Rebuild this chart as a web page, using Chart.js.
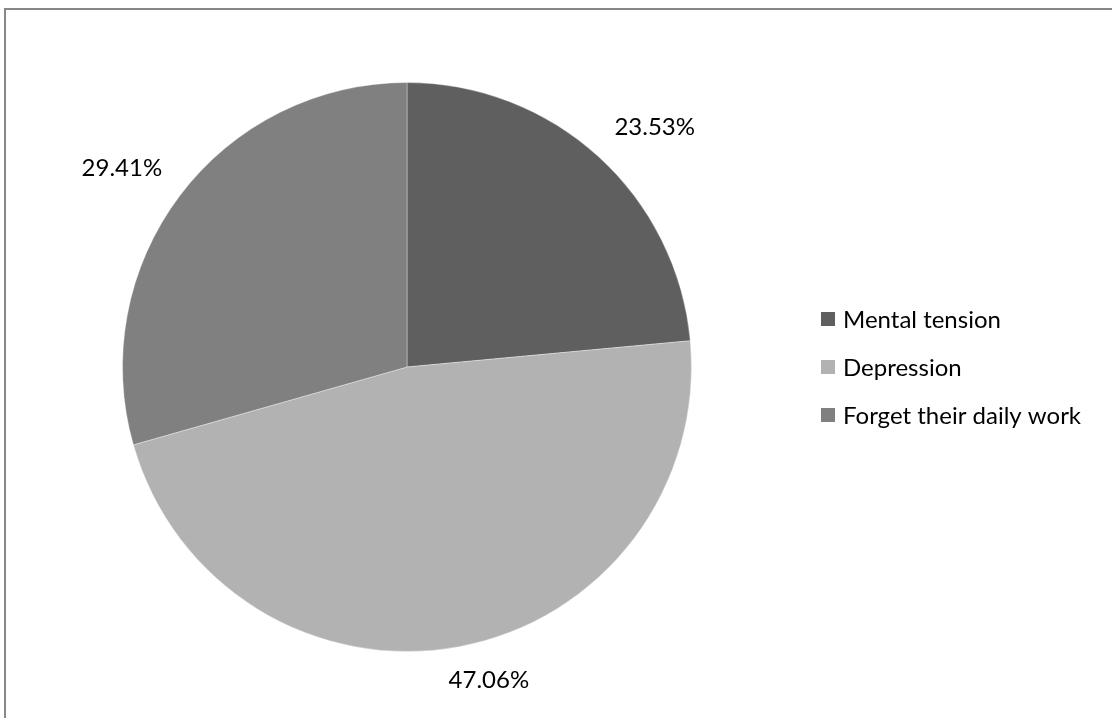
<!DOCTYPE html>
<html>
<head>
<meta charset="utf-8">
<script src="https://cdn.jsdelivr.net/npm/chart.js@4/dist/chart.umd.min.js"></script>
<style>
  html, body { margin: 0; padding: 0; background: #fff; overflow: hidden; }
  #frame { position: absolute; left: 4px; top: 8px; width: 2000px; height: 2000px; border: 2px solid #878787; }
  #pie { position: absolute; left: 0; top: 0; }
</style>
</head>
<body>
<div id="frame"></div>
<canvas id="pie" width="1112" height="718"></canvas>
<script>
// categorias y valores (respuestas)
const categorias = ['Mental tension', 'Depression', 'Forget their daily work'];
const valores = [4, 8, 5];
const colores = ['#5f5f5f', '#b2b2b2', '#808080'];
const fuente = 'Lato';

// etiquetas de porcentaje fuera de cada porción
const etiquetasPct = {
  id: 'etiquetasPct',
  afterDatasetsDraw(chart) {
    const ctx = chart.ctx;
    const total = valores.reduce((a, b) => a + b, 0);
    const meta = chart.getDatasetMeta(0);
    ctx.save();
    ctx.font = '24px ' + fuente;
    ctx.fillStyle = '#000';
    ctx.textAlign = 'center';
    ctx.textBaseline = 'middle';
    meta.data.forEach((arc, i) => {
      const p = arc.getProps(['x', 'y', 'startAngle', 'endAngle', 'outerRadius'], true);
      const mid = (p.startAngle + p.endAngle) / 2;
      const txt = (valores[i] / total * 100).toFixed(2) + '%';
      const cx = Math.cos(mid), cy = Math.sin(mid);
      const R = p.outerRadius + 16;
      // desplazamiento segun el tamaño del texto
      const A = (ctx.measureText(txt).width / 2 + 5) * Math.min(1, 3.2 * Math.abs(cx));
      const B = 18 * Math.min(1, 3.2 * Math.abs(cy));
      ctx.fillText(txt, p.x + cx * R + Math.sign(cx) * A, p.y + cy * R + Math.sign(cy) * B);
    });
    ctx.restore();
  }
};

// leyenda a la derecha
const leyenda = {
  id: 'leyenda',
  afterDraw(chart) {
    const ctx = chart.ctx;
    ctx.save();
    ctx.font = '24px ' + fuente;
    ctx.textBaseline = 'middle';
    chart.data.labels.forEach((lab, i) => {
      const y = 319 + i * 48;
      ctx.fillStyle = colores[i];
      ctx.fillRect(821, y - 7, 14, 14);
      ctx.fillStyle = '#000';
      ctx.fillText(lab, 843, y + 1);
    });
    ctx.restore();
  }
};

const grafico = new Chart(document.getElementById('pie'), {
  type: 'pie',
  data: {
    labels: categorias,
    datasets: [{
      data: valores,
      backgroundColor: colores,
      borderColor: 'rgba(255,255,255,0.35)',
      borderWidth: 1
    }]
  },
  options: {
    responsive: false,
    animation: false,
    layout: { padding: { left: 122, right: 420, top: 82, bottom: 66 } },
    plugins: {
      legend: { display: false },
      tooltip: { enabled: false }
    }
  },
  plugins: [etiquetasPct, leyenda]
});
</script>
</body>
</html>
